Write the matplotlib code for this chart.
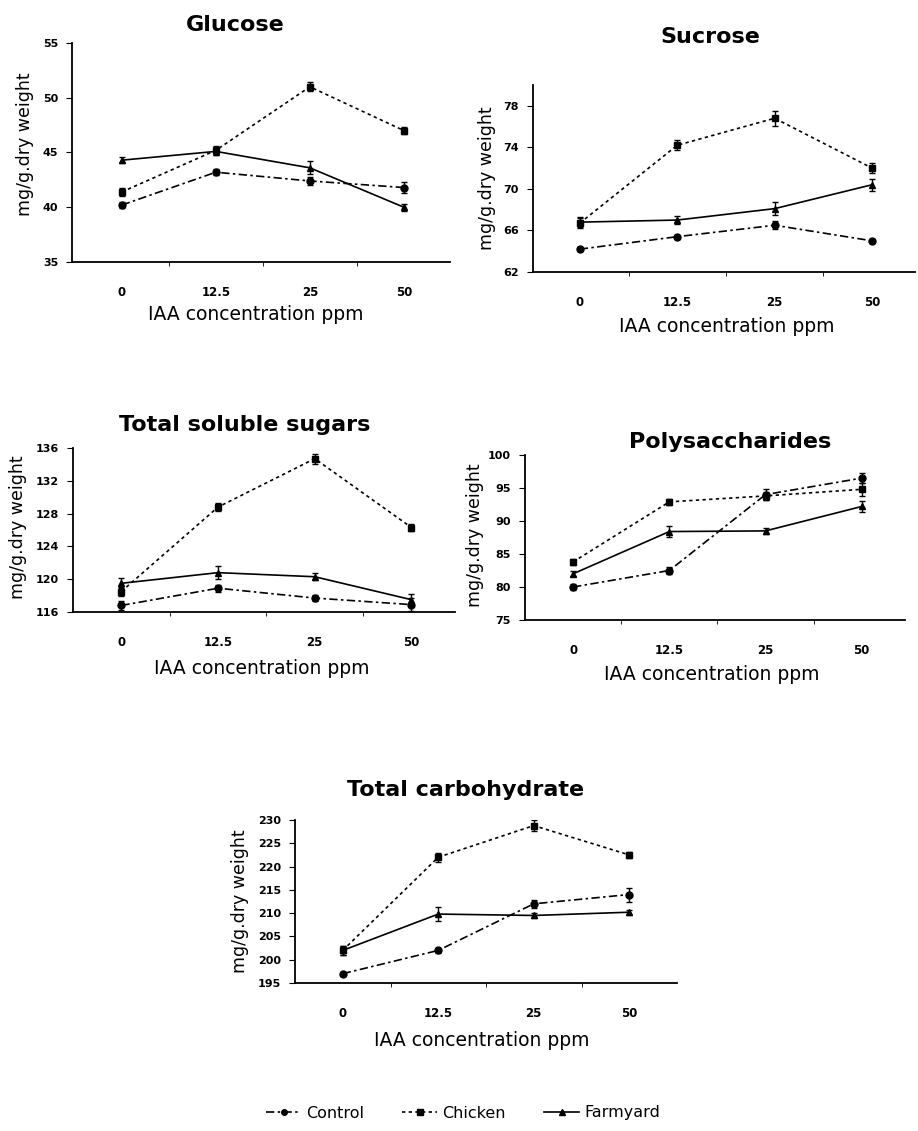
import matplotlib.pyplot as plt
from matplotlib.lines import Line2D

plt.rcParams['font.family'] = 'DejaVu Sans'

conc = ['0', '12.5', '25', '50']

# Glucose
glu_control = [40.2, 43.2, 42.4, 41.8]
glu_chicken = [41.4, 45.2, 51.0, 47.0]
glu_farm = [44.3, 45.1, 43.6, 40.0]
glu_control_err = [0.3, 0.3, 0.4, 0.5]
glu_chicken_err = [0.4, 0.4, 0.4, 0.3]
glu_farm_err = [0.3, 0.3, 0.6, 0.3]

# Sucrose
suc_control = [64.2, 65.4, 66.5, 65.0]
suc_chicken = [66.7, 74.2, 76.8, 72.0]
suc_farm = [66.8, 67.0, 68.1, 70.4]
suc_control_err = [0.2, 0.2, 0.4, 0.2]
suc_chicken_err = [0.5, 0.5, 0.7, 0.5]
suc_farm_err = [0.5, 0.4, 0.6, 0.6]

# Total soluble sugars
tss_control = [116.8, 118.9, 117.7, 116.9]
tss_chicken = [118.5, 128.8, 134.7, 126.3]
tss_farm = [119.5, 120.8, 120.3, 117.5]
tss_control_err = [0.5, 0.4, 0.4, 0.8]
tss_chicken_err = [0.6, 0.5, 0.6, 0.4]
tss_farm_err = [0.6, 0.8, 0.4, 0.7]

# Polysaccharides
pol_control = [80.0, 82.5, 94.0, 96.5]
pol_chicken = [83.8, 92.9, 93.8, 94.8]
pol_farm = [82.0, 88.4, 88.5, 92.2]
pol_control_err = [0.4, 0.5, 0.8, 0.8]
pol_chicken_err = [0.5, 0.5, 0.6, 1.0]
pol_farm_err = [0.4, 0.8, 0.4, 0.8]

# Total carbohydrate
tc_control = [197.0, 202.0, 212.0, 214.0]
tc_chicken = [202.0, 222.0, 228.8, 222.5]
tc_farm = [202.0, 209.8, 209.5, 210.2]
tc_control_err = [0.4, 0.6, 0.8, 1.5]
tc_chicken_err = [1.0, 1.0, 1.2, 0.6]
tc_farm_err = [1.0, 1.5, 0.6, 0.5]

W, H = 918, 1131
fig = plt.figure(figsize=(W / 100, H / 100), dpi=100)

ls_control = (0, (5, 2, 1.5, 2))
ls_chicken = (0, (2, 2))


def px_axes(x0, x1, ybot, ytop):
    return fig.add_axes([x0 / W, 1 - ybot / H, (x1 - x0) / W, (ybot - ytop) / H])


def panel(ax, ctrl, chick, farm, e_ctrl, e_chick, e_farm, ylim, yticks, xlim):
    x = range(len(conc))
    kw = dict(color='black', lw=1.2, capsize=2.5, elinewidth=1, markersize=5)
    ax.errorbar(x, chick, yerr=e_chick, ls=ls_chicken, marker='s', **kw)
    ax.errorbar(x, ctrl, yerr=e_ctrl, ls=ls_control, marker='o', **kw)
    ax.errorbar(x, farm, yerr=e_farm, ls='-', marker='^', **kw)
    ax.set_xlim(*xlim)
    ax.set_ylim(*ylim)
    ax.set_yticks(yticks)
    ax.set_xticks(list(x))
    ax.set_xticklabels(conc, fontsize=8.5, fontweight='bold')
    ax.set_xticks([0.5, 1.5, 2.5], minor=True)
    ax.tick_params(axis='x', which='major', length=0, pad=17)
    ax.tick_params(axis='x', which='minor', length=3, direction='out')
    ax.tick_params(axis='y', labelsize=8, length=4, direction='out', pad=6)
    for lab in ax.get_yticklabels():
        lab.set_fontweight('bold')
    for s in ['top', 'right']:
        ax.spines[s].set_visible(False)
    for s in ['left', 'bottom']:
        ax.spines[s].set_linewidth(1.3)


def texts(title, tx, ty, xlx, xly, ylx, yly):
    fig.text(tx / W, 1 - ty / H, title, fontsize=16, fontweight='bold',
             ha='center', va='center')
    fig.text(xlx / W, 1 - xly / H, 'IAA concentration ppm', fontsize=13.5,
             fontweight='medium', ha='center', va='center')
    fig.text(ylx / W, 1 - yly / H, 'mg/g.dry weight', fontsize=12.5,
             fontweight='medium', rotation=90, ha='center', va='center')


ax1 = px_axes(72, 450, 262, 43)
panel(ax1, glu_control, glu_chicken, glu_farm, glu_control_err, glu_chicken_err,
      glu_farm_err, (35, 55), range(35, 56, 5), (-0.53, 3.49))
texts('Glucose', 235, 25, 256, 315, 25, 144)

ax2 = px_axes(533, 915, 272, 85)
panel(ax2, suc_control, suc_chicken, suc_farm, suc_control_err, suc_chicken_err,
      suc_farm_err, (62, 80), range(62, 79, 4), (-0.48, 3.44))
texts('Sucrose', 710, 37, 727, 327, 487, 178)

ax3 = px_axes(73, 455, 612, 448)
panel(ax3, tss_control, tss_chicken, tss_farm, tss_control_err, tss_chicken_err,
      tss_farm_err, (116, 136), range(116, 137, 4), (-0.5, 3.45))
texts('Total soluble sugars', 245, 425, 262, 668, 18, 527)

ax4 = px_axes(525, 905, 620, 455)
panel(ax4, pol_control, pol_chicken, pol_farm, pol_control_err, pol_chicken_err,
      pol_farm_err, (75, 100), range(75, 101, 5), (-0.5, 3.45))
texts('Polysaccharides', 730, 442, 712, 675, 475, 535)

ax5 = px_axes(295, 677, 983, 820)
panel(ax5, tc_control, tc_chicken, tc_farm, tc_control_err, tc_chicken_err,
      tc_farm_err, (195, 230), range(195, 231, 5), (-0.5, 3.5))
texts('Total carbohydrate', 466, 790, 482, 1040, 240, 901)

handles = [
    Line2D([], [], color='black', ls=ls_control, marker='o', markersize=4, lw=1.2),
    Line2D([], [], color='black', ls=ls_chicken, marker='s', markersize=4, lw=1.2),
    Line2D([], [], color='black', ls='-', marker='^', markersize=4, lw=1.2),
]
fig.legend(handles, ['Control', 'Chicken', 'Farmyard'], loc='center',
           bbox_to_anchor=(463 / W, 1 - 1113 / H), ncol=3, frameon=False,
           fontsize=11.5, handlelength=2.2, handletextpad=0.3, columnspacing=2.4)

fig.savefig('out.png', dpi=100)
